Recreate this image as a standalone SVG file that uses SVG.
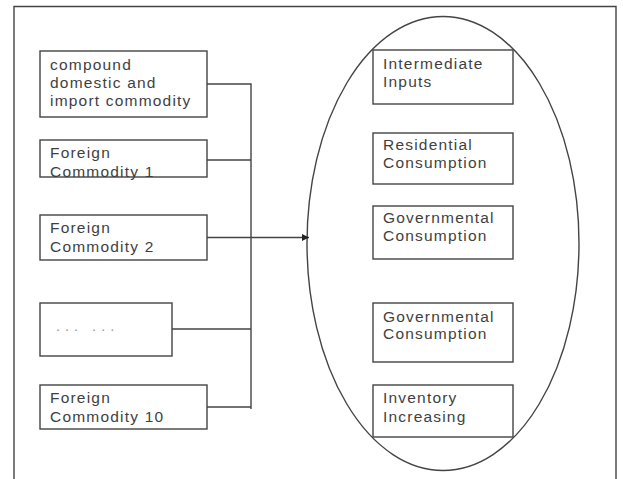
<svg xmlns="http://www.w3.org/2000/svg" width="623" height="479" viewBox="0 0 623 479">
<style>
.box{fill:#fff;stroke:#444;stroke-width:1.4}
.ln{fill:none;stroke:#444;stroke-width:1.4}
text{font-family:"Liberation Sans",Arial,sans-serif;font-size:15.5px;letter-spacing:1.2px;fill:#3f3f3f}
.dots{fill:#999;letter-spacing:5px;font-size:14.5px}
</style>
<defs>
<marker id="ah" markerWidth="8" markerHeight="8" refX="7" refY="4" orient="auto" markerUnits="userSpaceOnUse">
<path d="M0,0.5 L7,4 L0,7.5 Z" fill="#222"/>
</marker>
</defs>
<rect width="623" height="479" fill="#fff"/>
<path class="ln" d="M14,479 V6.5 H616 V479"/>
<g id="ellipse"><ellipse cx="443" cy="243.5" rx="136" ry="227" class="ln"/></g>
<g id="connectors">
<path class="ln" d="M207,84 H251 V409"/>
<path class="ln" d="M207,160 H251"/>
<path class="ln" d="M172,329 H251"/>
<path class="ln" d="M207,407 H251"/>
<path class="ln" d="M207,237.5 H309" marker-end="url(#ah)"/>
</g>
<g id="n1"><rect class="box" x="40" y="51" width="167" height="66"/>
<text x="50" y="70">compound</text><text x="50" y="88">domestic and</text><text x="50" y="106">import commodity</text></g>
<g id="n2"><rect class="box" x="40" y="140" width="167" height="37"/>
<text x="50" y="158">Foreign</text><text x="50" y="177">Commodity 1</text></g>
<g id="n3"><rect class="box" x="40" y="215" width="167" height="45"/>
<text x="50" y="233">Foreign</text><text x="50" y="252">Commodity 2</text></g>
<g id="n4"><rect class="box" x="40" y="303" width="132" height="53"/>
<text class="dots" x="56" y="331">... ...</text></g>
<g id="n5"><rect class="box" x="40" y="385" width="167" height="44"/>
<text x="50" y="403">Foreign</text><text x="50" y="422">Commodity 10</text></g>
<g id="r1"><rect class="box" x="373" y="50" width="140" height="54"/>
<text x="383" y="69">Intermediate</text><text x="383" y="87">Inputs</text></g>
<g id="r2"><rect class="box" x="373" y="133" width="140" height="51"/>
<text x="383" y="150">Residential</text><text x="383" y="168">Consumption</text></g>
<g id="r3"><rect class="box" x="373" y="206" width="140" height="53"/>
<text x="383" y="223">Governmental</text><text x="383" y="241">Consumption</text></g>
<g id="r4"><rect class="box" x="373" y="303" width="140" height="59"/>
<text x="383" y="322">Governmental</text><text x="383" y="339">Consumption</text></g>
<g id="r5"><rect class="box" x="373" y="385" width="140" height="52"/>
<text x="383" y="403">Inventory</text><text x="383" y="422">Increasing</text></g>
</svg>
